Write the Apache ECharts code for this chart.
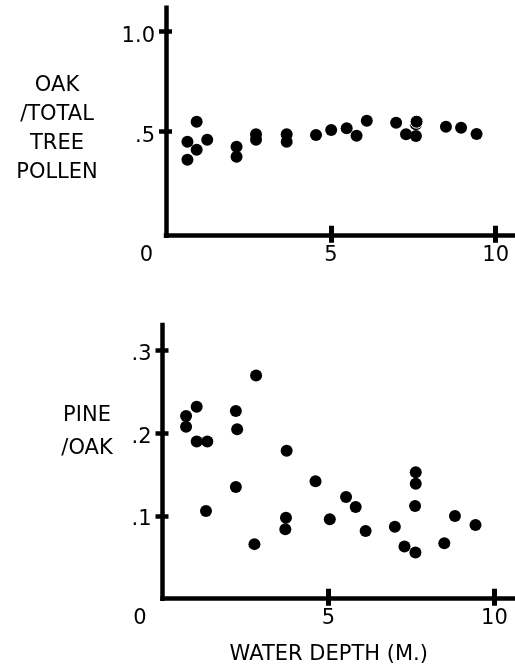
<!DOCTYPE html>
<html>
<head>
<meta charset="utf-8">
<script src="https://cdn.jsdelivr.net/npm/echarts@6/dist/echarts.min.js"></script>
<style>
  html, body { margin: 0; padding: 0; background: #fff; }
  #chart { width: 515px; height: 670px; }
</style>
</head>
<body>
<div id="chart"></div>
<script>
// ---- Data ----
// Top panel: Oak / total tree pollen vs water depth (m)
const oakDepth = [0.65, 0.65, 0.93, 0.93, 1.25, 2.14, 2.14, 2.73, 2.73, 3.66, 3.66, 4.55, 5.01, 5.48, 5.78, 6.09, 6.98, 7.28, 7.58, 7.58, 8.49, 8.95, 9.42];
const oakRatio = [0.45, 0.36, 0.55, 0.41, 0.46, 0.425, 0.375, 0.487, 0.46, 0.487, 0.45, 0.483, 0.508, 0.517, 0.48, 0.555, 0.545, 0.487, 0.537, 0.478, 0.525, 0.52, 0.488];
// open (ringed) point in the top panel
const oakOpenDepth = [7.6];
const oakOpenRatio = [0.55];

// Bottom panel: Pine / oak vs water depth (m)
const pineDepth = [0.71, 0.71, 1.03, 1.03, 1.35, 1.31, 2.21, 2.25, 2.21, 2.82, 2.77, 3.74, 3.72, 3.70, 4.61, 5.04, 5.53, 5.82, 6.12, 7.00, 7.29, 7.62, 7.63, 7.63, 7.61, 8.49, 8.81, 9.43];
const pineRatio = [0.221, 0.208, 0.232, 0.19, 0.19, 0.106, 0.227, 0.205, 0.135, 0.27, 0.066, 0.179, 0.098, 0.084, 0.142, 0.096, 0.123, 0.111, 0.082, 0.087, 0.063, 0.056, 0.153, 0.139, 0.112, 0.067, 0.1, 0.089];

// Ticks and labels
const xTickValues = [5, 10];
const xLabelValues = [0, 5, 10];
const xLabelTexts = ['0', '5', '10'];
const oakTickValues = [0.5, 1.0];
const oakLabelTexts = ['.5', '1.0'];
const pineTickValues = [0.1, 0.2, 0.3];
const pineLabelTexts = ['.1', '.2', '.3'];

const topTitleLines = ['OAK', '/TOTAL', 'TREE', 'POLLEN'];
const bottomTitleLines = ['PINE', '/OAK'];
const xTitle = 'WATER DEPTH (M.)';

// ---- Chart ----
const FONT = 'DejaVu Sans';
const BLACK = '#000';
const chart = echarts.init(document.getElementById('chart'), null, { renderer: 'canvas' });

function zip(xs, ys) { return xs.map((x, i) => [x, ys[i]]); }

function makeX(gridIndex, max, zeroShift, main) {
  return {
    type: 'value', gridIndex, min: 0, max, position: 'bottom', offset: 0,
    splitLine: { show: false },
    axisLine: { show: main, onZero: false, lineStyle: { color: BLACK, width: 4.5, cap: 'square' } },
    axisTick: { show: true, inside: !main, length: main ? 7 : 10, customValues: xTickValues, lineStyle: { color: BLACK, width: 5 } },
    axisLabel: main ? {
      show: true, customValues: xLabelValues, margin: 9, color: BLACK, fontFamily: FONT, fontSize: 21,
      formatter: v => {
        const t = xLabelTexts[xLabelValues.indexOf(v)];
        return v === 0 ? '{z|' + t + '}' : t;
      },
      rich: { z: { fontFamily: FONT, fontSize: 21, color: BLACK, padding: [0, zeroShift * 2, 0, 0] } }
    } : { show: false }
  };
}

function makeY(gridIndex, min, max, ticks, texts, main, drop) {
  return {
    type: 'value', gridIndex, min, max, position: 'left', offset: 0,
    splitLine: { show: false },
    axisLine: { show: main, onZero: false, lineStyle: { color: BLACK, width: 4.5, cap: 'square' } },
    axisTick: { show: true, inside: !main, length: main ? 7 : 6, customValues: ticks, lineStyle: { color: BLACK, width: 4.5 } },
    axisLabel: main ? {
      show: true, customValues: ticks, margin: 11, color: BLACK, fontFamily: FONT, fontSize: 21,
      formatter: v => '{a|' + texts[ticks.indexOf(v)] + '}',
      rich: { a: { fontFamily: FONT, fontSize: 21, color: BLACK, padding: [drop * 2, 0, 0, 0] } }
    } : { show: false }
  };
}

const option = {
  animation: false,
  backgroundColor: '#fff',
  grid: [
    { left: 166, right: 0, top: 7.7, height: 228 },
    { left: 162.5, right: 0, top: 325, height: 273.7 }
  ],
  xAxis: [
    makeX(0, 10.585, 19.5, true),
    makeX(0, 10.585, 19.5, false),
    Object.assign(makeX(1, 10.62, 22.5, true), {
      name: xTitle, nameLocation: 'middle', nameGap: 45,
      nameTextStyle: { fontFamily: FONT, fontSize: 21, color: BLACK, padding: [0, 20, 0, 0] }
    }),
    makeX(1, 10.62, 22.5, false)
  ],
  yAxis: [
    makeY(0, -0.02, 1.12, oakTickValues, oakLabelTexts, true, 5),
    makeY(0, -0.02, 1.12, oakTickValues, oakLabelTexts, false, 0),
    makeY(1, 0, 0.331, pineTickValues, pineLabelTexts, true, 4),
    makeY(1, 0, 0.331, pineTickValues, pineLabelTexts, false, 0)
  ],
  graphic: [
    {
      type: 'text', x: 57, y: 129,
      style: {
        text: topTitleLines.join('\n'), fontFamily: FONT, fontSize: 21, lineHeight: 29,
        fill: BLACK, align: 'center', verticalAlign: 'middle'
      }
    },
    {
      type: 'text', x: 87, y: 432,
      style: {
        text: bottomTitleLines.join('\n'), fontFamily: FONT, fontSize: 21, lineHeight: 33,
        fill: BLACK, align: 'center', verticalAlign: 'middle'
      }
    }
  ],
  series: [
    {
      type: 'scatter', xAxisIndex: 0, yAxisIndex: 0, symbolSize: 12,
      itemStyle: { color: BLACK, opacity: 1 },
      data: zip(oakDepth, oakRatio)
    },
    {
      type: 'scatter', xAxisIndex: 0, yAxisIndex: 0, symbolSize: 13,
      itemStyle: { color: BLACK, borderColor: '#fff', borderWidth: 1, opacity: 1 },
      data: zip(oakOpenDepth, oakOpenRatio)
    },
    {
      type: 'scatter', xAxisIndex: 2, yAxisIndex: 2, symbolSize: 12,
      itemStyle: { color: BLACK, opacity: 1 },
      data: zip(pineDepth, pineRatio)
    }
  ]
};
chart.setOption(option);
</script>
</body>
</html>
